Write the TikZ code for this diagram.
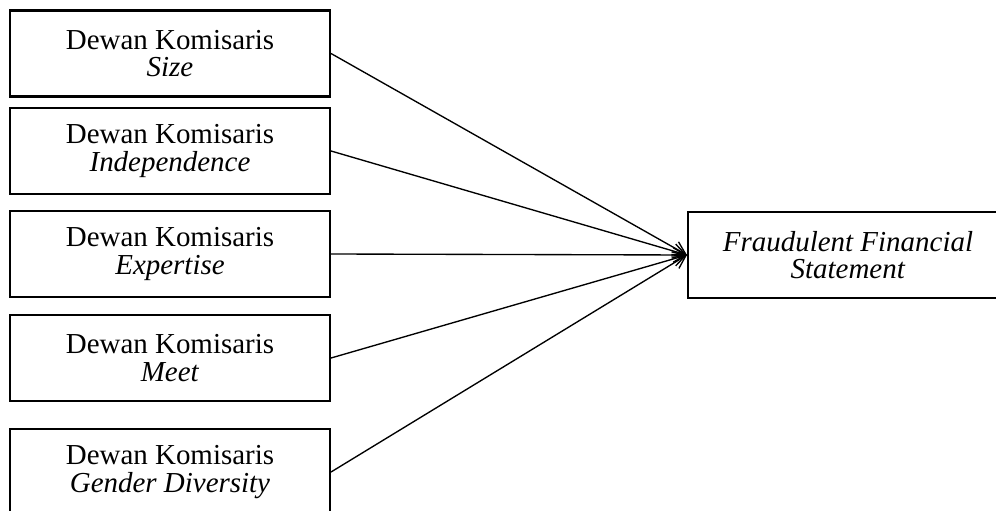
\documentclass[tikz,border=0pt]{standalone}
\usepackage{fontspec}
\setmainfont{Liberation Serif}
\usetikzlibrary{arrows.meta}

\begin{document}
\begin{tikzpicture}[x=0.48pt,y=-0.48pt]
	\useasboundingbox (0,0) rectangle (996,511);
	\clip (0,0) rectangle (996,511);
	\begin{scope}[every node/.style={rectangle,draw,line width=1pt,minimum width=153.6pt,minimum height=41.3pt,inner sep=0pt,align=center,font=\fontsize{13.9}{13.3}\selectfont}]
	\node (S) at (170,53.5) {Dewan Komisaris\\\textit{Size}};
	\node (I) at (170,151) {Dewan Komisaris\\\textit{Independence}};
	\node (E) at (170,254) {Dewan Komisaris\\\textit{Expertise}};
	\node (M) at (170,358) {Dewan Komisaris\\\textit{Meet}};
	\node (G) at (170,472) {Dewan Komisaris\\\textit{Gender Diversity}};
	\node (F) at (848,255) {\textit{Fraudulent Financial}\\\textit{Statement}};
	\end{scope}
	\draw [line width=0.65pt,-{Straight Barb[length=6pt,width=7pt]}] (S.east) -- (F.west);
	\draw [line width=0.65pt,-{Straight Barb[length=6pt,width=7pt]}] (I.east) -- (F.west);
	\draw [line width=0.65pt,-{Straight Barb[length=6pt,width=7pt]}] (E.east) -- (F.west);
	\draw [line width=0.65pt,-{Straight Barb[length=6pt,width=7pt]}] (M.east) -- (F.west);
	\draw [line width=0.65pt,-{Straight Barb[length=6pt,width=7pt]}] (G.east) -- (F.west);
\end{tikzpicture}
\end{document}
